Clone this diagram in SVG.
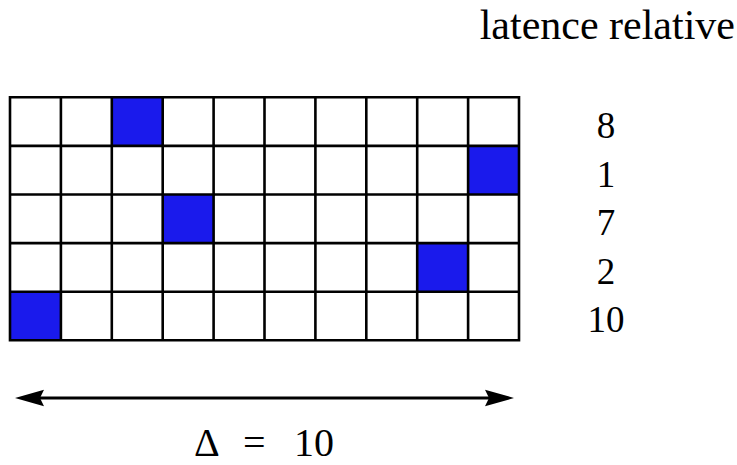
<svg xmlns="http://www.w3.org/2000/svg" width="737" height="465" viewBox="0 0 737 465">
<defs>
<style>
.hit{fill:#1a1aec;stroke:none}
.grid{stroke:#000;stroke-width:2.6;fill:none}
.conn{stroke:#000;stroke-width:3;fill:none}
.t{font-family:'Liberation Serif','Times New Roman','DejaVu Serif',serif;fill:#000}
</style>
<marker id="head" markerUnits="userSpaceOnUse" viewBox="-5 -10 32 20" refX="0" refY="0" markerWidth="32" markerHeight="20" orient="auto-start-reverse">
<path d="M-4,-8.3 L25,0 L-4,8.3 L0,0 Z" fill="#000"/>
</marker>
</defs>
<rect width="737" height="465" fill="#fff"/>
<g id="title"><text class="t" x="735" y="39" font-size="42" text-anchor="end">latence relative</text></g>
<g id="grid">
<rect class="hit" x="111.8" y="97.3" width="50.9" height="48.6"/>
<rect class="hit" x="468.1" y="145.9" width="50.9" height="48.6"/>
<rect class="hit" x="162.7" y="194.5" width="50.9" height="48.6"/>
<rect class="hit" x="417.2" y="243.1" width="50.9" height="48.6"/>
<rect class="hit" x="10" y="291.7" width="50.9" height="48.6"/>
<path class="grid" d="M10,97.3H519V340.3H10Z M10,145.9H519 M10,194.5H519 M10,243.1H519 M10,291.7H519 M60.9,97.3V340.3 M111.8,97.3V340.3 M162.7,97.3V340.3 M213.6,97.3V340.3 M264.5,97.3V340.3 M315.4,97.3V340.3 M366.3,97.3V340.3 M417.2,97.3V340.3 M468.1,97.3V340.3"/>
</g>
<g id="latencies" class="t" font-size="37" text-anchor="middle">
<text x="606" y="138">8</text>
<text x="606" y="186.5">1</text>
<text x="606" y="235">7</text>
<text x="606" y="283.5">2</text>
<text x="606" y="332">10</text>
</g>
<g id="connectors">
<line class="conn" x1="40" y1="398" x2="489" y2="398" marker-start="url(#head)" marker-end="url(#head)"/>
</g>
<g id="delta" class="t" font-size="40">
<text x="194" y="456">Δ<tspan x="243">=</tspan><tspan x="294">10</tspan></text>
</g>
</svg>
